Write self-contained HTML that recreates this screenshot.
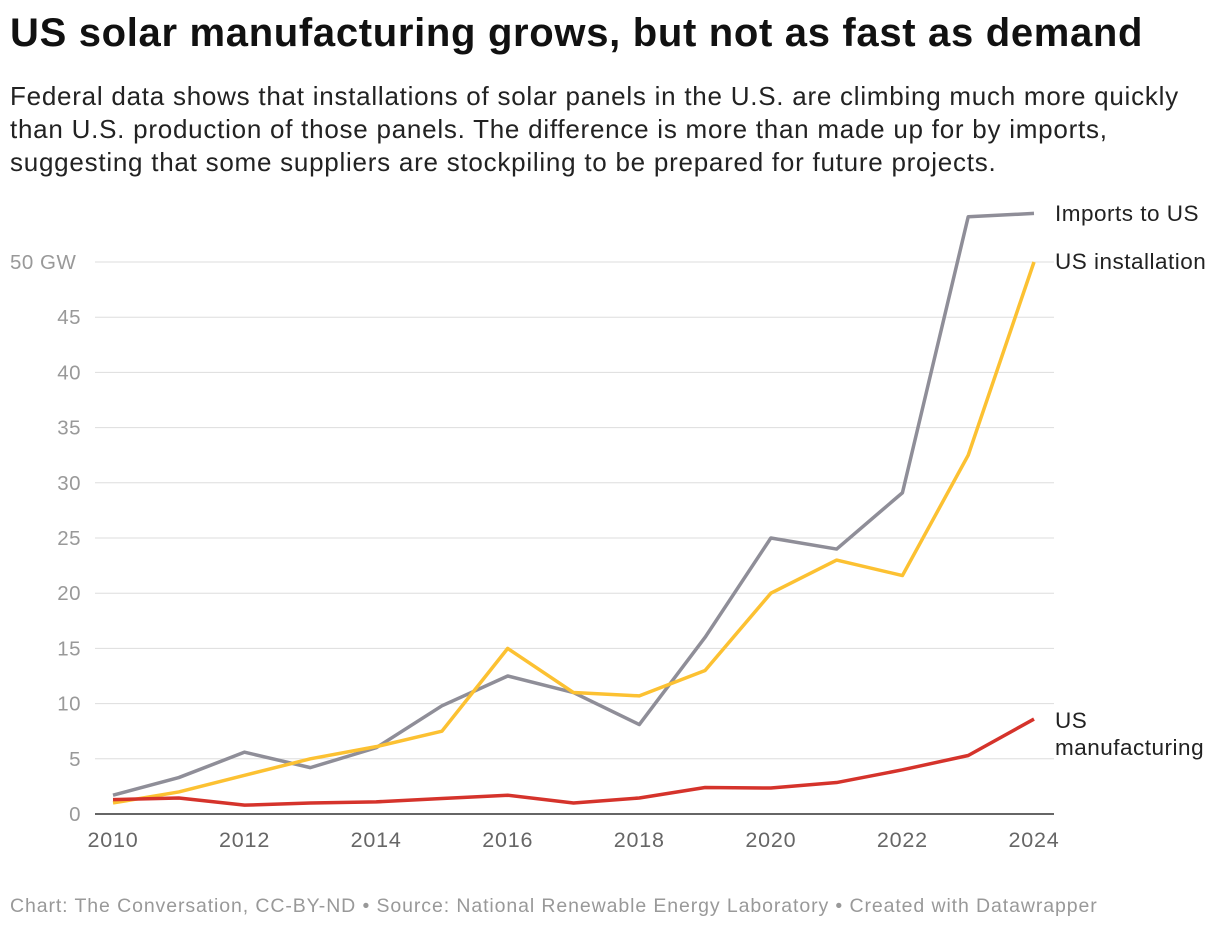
<!DOCTYPE html>
<html><head><meta charset="utf-8"><style>
body{margin:0;background:#fff;width:1220px;height:930px;overflow:hidden;font-family:"Liberation Sans",Arial,sans-serif}
#title{position:absolute;left:10px;top:11px;font-size:40px;font-weight:bold;color:#111;letter-spacing:0.68px;white-space:nowrap}
#sub{position:absolute;left:10px;top:80px;font-size:26px;line-height:33px;color:#222;width:1210px;white-space:nowrap;letter-spacing:0.75px}
#foot{position:absolute;left:10px;top:895px;font-size:19.5px;color:#999;letter-spacing:0.9px;white-space:nowrap}
svg{position:absolute;left:0;top:0}
</style></head><body>
<div id="title">US solar manufacturing grows, but not as fast as demand</div>
<div id="sub">Federal data shows that installations of solar panels in the U.S. are climbing much more quickly<br>than U.S. production of those panels. The difference is more than made up for by imports,<br>suggesting that some suppliers are stockpiling to be prepared for future projects.</div>
<svg id="chart" width="1220" height="930"></svg>
<div id="foot">Chart: The Conversation, CC-BY-ND • Source: National Renewable Energy Laboratory • Created with Datawrapper</div>
<script>
const years=[2010,2011,2012,2013,2014,2015,2016,2017,2018,2019,2020,2021,2022,2023,2024];
const imports=[1.7,3.3,5.6,4.2,6.0,9.8,12.5,11.0,8.1,16,25,24,29.1,54.1,54.4];
const installation=[1.0,2.0,3.5,5.0,6.1,7.5,15.0,11.0,10.7,13.0,20.0,23.0,21.6,32.5,50];
const manufacturing=[1.3,1.45,0.8,1.0,1.1,1.4,1.7,1.0,1.45,2.4,2.35,2.85,4.0,5.3,8.6];
const yTicks=[0,5,10,15,20,25,30,35,40,45,50];
const xTicks=[2010,2012,2014,2016,2018,2020,2022,2024];
const NS="http://www.w3.org/2000/svg";
const svg=document.getElementById('chart');
const x=v=>113+(v-2010)*(1034-113)/14;
const y=v=>814-v*(814-262)/50;
function mk(t,a){const e=document.createElementNS(NS,t);for(const k in a)e.setAttribute(k,a[k]);svg.appendChild(e);return e;}
yTicks.forEach(t=>{
  const l=mk('line',{x1:95,x2:1054,y1:y(t),y2:y(t),stroke:t===0?'#333':'#ddd','stroke-width':t===0?1.5:1});
  
  
  const tx=mk('text',{x:t===50?10:81,y:y(t)+7,'font-size':20.5,fill:'#999','text-anchor':t===50?'start':'end','letter-spacing':0.5});
  tx.textContent=t===50?'50 GW':String(t);
  
  
});
xTicks.forEach(t=>{
  const tx=mk('text',{x:x(t),y:847,'font-size':21.5,fill:'#666','text-anchor':'middle','letter-spacing':0.8});
  tx.textContent=String(t);
  
  
});
function line(vals,color,name){
  const p=mk('polyline',{points:vals.map((v,i)=>x(years[i])+','+y(v)).join(' '),fill:'none',stroke:color,'stroke-width':3.5,'stroke-linejoin':'round'});
  
  
}
line(imports,'#8f8e98','imports-line');
line(installation,'#fcc132','installation-line');
line(manufacturing,'#d5332b','manufacturing-line');
function lab(txt,yy,name){
  const tx=mk('text',{x:1055,y:yy,'font-size':22.5,fill:'#222','letter-spacing':0.5});
  tx.textContent=txt;
  
  
}
lab('Imports to US',221,'label-imports');
lab('US installation',269,'label-installation');
lab('US',728,'label-manufacturing-1');
lab('manufacturing',755,'label-manufacturing-2');
</script>
</body></html>
